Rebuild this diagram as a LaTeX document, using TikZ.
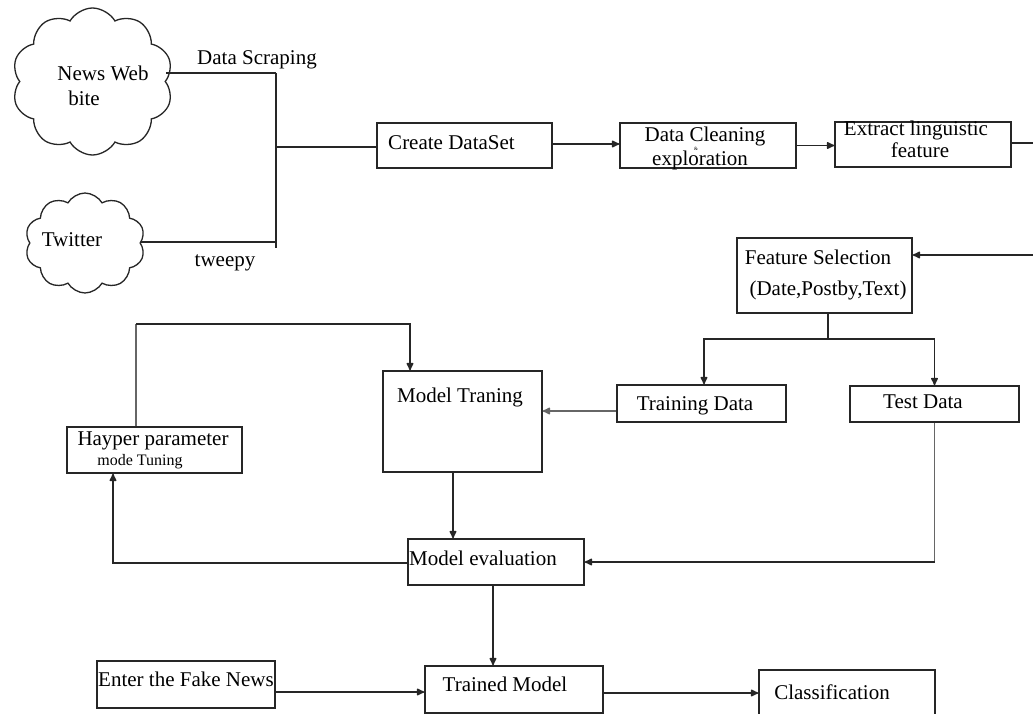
\documentclass[tikz,border=0pt]{standalone}
\usepackage{fontspec}
\setmainfont{Liberation Serif}
\usetikzlibrary{shapes.symbols,arrows.meta}

\newcommand{\mainfs}{\fontsize{21pt}{24pt}\selectfont}
\newcommand{\smallfs}{\fontsize{16pt}{18pt}\selectfont}
\newcommand{\tinyfs}{\fontsize{5pt}{6pt}\selectfont}

\tikzset{
  boxnode/.style={draw=black!85, line width=1.4pt, inner sep=0pt, fill=none},
  txt/.style={inner sep=0pt, font=\mainfs, text height=0.7em, text depth=0.2em},
  smalltxt/.style={inner sep=0pt, font=\smallfs},
  cloudnode/.style={draw=black!85, line width=1.3pt, cloud, cloud puffs=10,
    cloud puff arc=120, inner sep=0pt},
  link/.style={draw=black!85, line width=1.3pt},
  greylink/.style={draw=black!60, line width=1.3pt},
  arr/.style={link, -{Latex[round,length=9pt,width=8pt]}},
  greyarr/.style={greylink, -{Latex[round,length=9pt,width=8pt]}},
}

\begin{document}
\begin{tikzpicture}[x=1pt,y=-1pt]
\useasboundingbox (0,0) rectangle (1033,714);
\clip (0,0) rectangle (1033,714);
\fill[white] (0,0) rectangle (1033,714);

% ---- sources ----
\node[cloudnode, minimum width=161pt, minimum height=147pt] (news) at (92.5,81.5) {};
\node[txt] (newsT1) at (103,78) {News Web};
\node[txt] (newsT2) at (84,103) {bite};

\node[cloudnode, minimum width=120pt, minimum height=100pt] (tw) at (85,243) {};
\node[txt] (twT) at (72,244) {Twitter};

\coordinate (jTop) at (276,73);
\coordinate (jMid) at (276,147);
\coordinate (jBot) at (276,242);
\coordinate (jEnd) at (276,248);

\node[txt] (scrapT) at (257,62) {Data Scraping};
\node[txt] (tweepyT) at (225,264) {tweepy};

% ---- top row ----
\node[boxnode, minimum width=175pt, minimum height=45pt] (cds) at (464.5,145.5) {};
\node[txt] (cdsT) at (451.5,147) {Create DataSet};

\node[boxnode, minimum width=176pt, minimum height=45pt] (dce) at (708,145.5) {};
\node[inner sep=0pt, font=\mainfs] (dceT1) at (705,136.5) {Data Cleaning};
\node[inner sep=0pt, font=\tinyfs] (dceAmp) at (696,149) {\&};
\node[inner sep=0pt, font=\mainfs] (dceT2) at (700,160) {exploration};

\node[boxnode, minimum width=176pt, minimum height=45pt] (elf) at (923,144.5) {};
\node[txt] (elfT1) at (916,133) {Extract linguistic};
\node[txt] (elfT2) at (920,155) {feature};

% ---- feature selection and split ----
\node[boxnode, minimum width=175pt, minimum height=75pt] (fs) at (824.5,275.5) {};
\node[txt] (fsT1) at (818,262) {Feature Selection};
\node[txt] (fsT2) at (828,293) {(Date,Postby,Text)};

\node[boxnode, minimum width=169pt, minimum height=37pt] (trd) at (701.5,403.5) {};
\node[txt] (trdT) at (695,408) {Training Data};

\node[boxnode, minimum width=169pt, minimum height=36pt] (tsd) at (934.5,404) {};
\node[txt] (tsdT) at (923,406) {Test Data};

% ---- training loop ----
\node[boxnode, minimum width=159pt, minimum height=101pt] (mt) at (462.5,421.5) {};
\node[txt] (mtT) at (460,400) {Model Traning};

\node[boxnode, minimum width=175pt, minimum height=46pt] (hp) at (154.5,450) {};
\node[txt] (hpT1) at (153,443) {Hayper parameter};
\node[smalltxt] (hpT2) at (140,462) {mode Tuning};

\node[boxnode, minimum width=176pt, minimum height=46pt] (me) at (496,562) {};
\node[txt] (meT) at (483,563) {Model evaluation};

% ---- bottom row ----
\node[boxnode, minimum width=178pt, minimum height=47pt] (efn) at (186,684.5) {};
\node[txt] (efnT) at (186,684) {Enter the Fake News};

\node[boxnode, minimum width=178pt, minimum height=47pt] (tm) at (514,689.5) {};
\node[txt] (tmT) at (505,689) {Trained Model};

\node[boxnode, minimum width=176pt, minimum height=50pt] (cls) at (847,695) {};
\node[txt] (clsT) at (832,697) {Classification};

% ---- connectors ----
\draw[link] (news.east |- jTop) -- (jTop);
\draw[link] (tw.east |- jBot) -- (jBot);
\draw[link] (jTop) -- (jEnd);
\draw[link] (jMid) -- (jMid -| cds.west);

\draw[arr] ([yshift=1.5pt]cds.east) -- ([yshift=1.5pt]cds.east -| dce.west);
\draw[arr] (dce.east) -- (dce.east -| elf.west);

\coordinate (rTop) at (1045,143);
\coordinate (rBot) at (1045,255);
\draw[arr] (elf.east |- rTop) -- (rTop) -- (rBot) -- (rBot -| fs.east);

\coordinate (split) at ([xshift=3.5pt]fs.south |- 0,339);
\draw[link] ([xshift=3.5pt]fs.south) -- (split);
\draw[arr] (split) -| ([xshift=2.5pt]trd.north);
\draw[arr] (split) -| (tsd.north);

\draw[greyarr] ([yshift=-7.5pt]trd.west) -- ([yshift=-7.5pt]trd.west -| mt.east);

\coordinate (loopTop) at (410,324);
\draw[greylink] ([xshift=-18.5pt]hp.north) -- ([xshift=-18.5pt]hp.north |- loopTop);
\draw[arr] ([xshift=-18.5pt]hp.north |- loopTop) -- (loopTop) -- (loopTop |- mt.north);

\draw[arr] ([xshift=-9.5pt]mt.south) -- ([xshift=-9.5pt]mt.south |- me.north);

\draw[arr] ([yshift=-1pt]me.west) -| ([xshift=-41.5pt]hp.south);
\draw[greylink] (tsd.south) -- (tsd.south |- me.east);
\draw[arr] (tsd.south |- me.east) -- (me.east);

\draw[arr] ([xshift=-3pt]me.south) -- ([xshift=-3pt]me.south |- tm.north);

\draw[arr] ([yshift=-7.5pt]efn.east) -- ([yshift=-7.5pt]efn.east -| tm.west);
\draw[arr] ([yshift=-3.5pt]tm.east) -- ([yshift=-3.5pt]tm.east -| cls.west);
\end{tikzpicture}
\end{document}
